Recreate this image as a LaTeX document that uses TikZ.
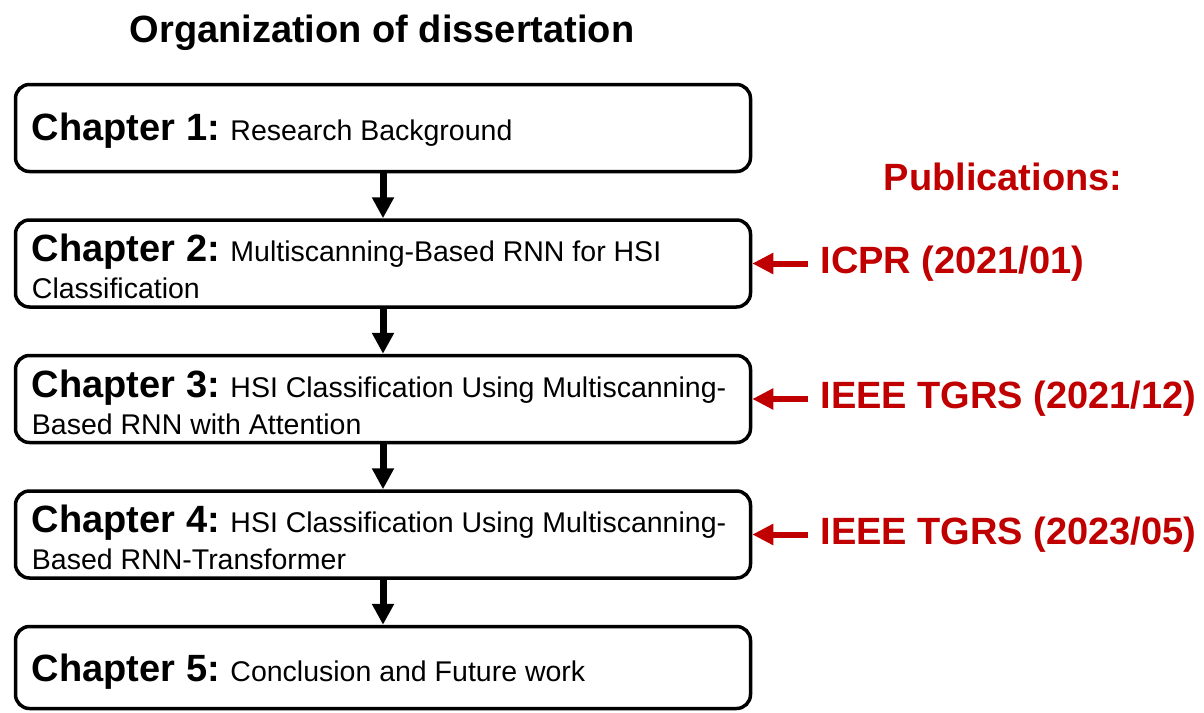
\documentclass[tikz,border=0pt]{standalone}
\usepackage{fontspec}
\setmainfont{Liberation Sans}
\usepackage{tikz}
\usetikzlibrary{arrows.meta, positioning}
\definecolor{pubred}{HTML}{C00000}

\newcommand{\chaphead}[1]{{\fontsize{38}{38}\selectfont\bfseries Chapter #1:}}

\begin{document}
\begin{tikzpicture}[
  x=1pt, y=1pt,
  chapter/.style={draw=black, line width=3.5pt, rounded corners=14pt,
    minimum width=735pt, minimum height=87pt},
  chaptext/.style={anchor=west, align=left, inner sep=0pt,
    font=\fontsize{28.5}{37}\selectfont},
  pub/.style={font=\fontsize{38}{38}\selectfont\bfseries, text=pubred},
  venue/.style={pub, anchor=west, inner xsep=12pt},
  down/.style={-{Triangle[width=21pt,length=21pt]}, line width=7pt},
  pubarrow/.style={-{Triangle[width=20pt,length=21pt]}, line width=6pt, pubred},
  node distance=45pt
]
\useasboundingbox (0,0) rectangle (1204,-712);
\node[font=\fontsize{38}{38}\selectfont\bfseries] (title) at (382,-33) {Organization of dissertation};
% chapter boxes
\node[chapter] (ch1) at (383,-128) {};
\node[chapter, below=of ch1] (ch2) {};
\node[chapter, below=of ch2] (ch3) {};
\node[chapter, below=of ch3] (ch4) {};
\node[chapter, minimum height=82pt, below=of ch4] (ch5) {};
\node[chaptext] (t1) at ([xshift=18pt,yshift=-3pt]ch1.west) {\chaphead{1} Research Background};
\node[chaptext] (t2) at ([xshift=18pt,yshift=-3pt]ch2.west) {\chaphead{2} Multiscanning-Based RNN for HSI\\Classification};
\node[chaptext] (t3) at ([xshift=18pt,yshift=-3pt]ch3.west) {\chaphead{3} HSI Classification Using Multiscanning-\\Based RNN with Attention};
\node[chaptext] (t4) at ([xshift=18pt,yshift=-3pt]ch4.west) {\chaphead{4} HSI Classification Using Multiscanning-\\Based RNN-Transformer};
\node[chaptext] (t5) at ([xshift=18pt,yshift=-4pt]ch5.west) {\chaphead{5} Conclusion and Future work};
\draw[down] (ch1) -- (ch2);
\draw[down] (ch2) -- (ch3);
\draw[down] (ch3) -- (ch4);
\draw[down] (ch4) -- (ch5);
% publications
\node[pub] (pubs) at (1003,-177) {Publications:};
\node[venue] (p2) at ([xshift=56pt]ch2.east) {ICPR (2021/01)};
\node[venue] (p3) at ([xshift=56pt]ch3.east) {IEEE TGRS (2021/12)};
\node[venue] (p4) at ([xshift=56pt]ch4.east) {IEEE TGRS (2023/05)};
\draw[pubarrow] (p2) -- (ch2.east);
\draw[pubarrow] (p3) -- (ch3.east);
\draw[pubarrow] (p4) -- (ch4.east);
\end{tikzpicture}
\end{document}
